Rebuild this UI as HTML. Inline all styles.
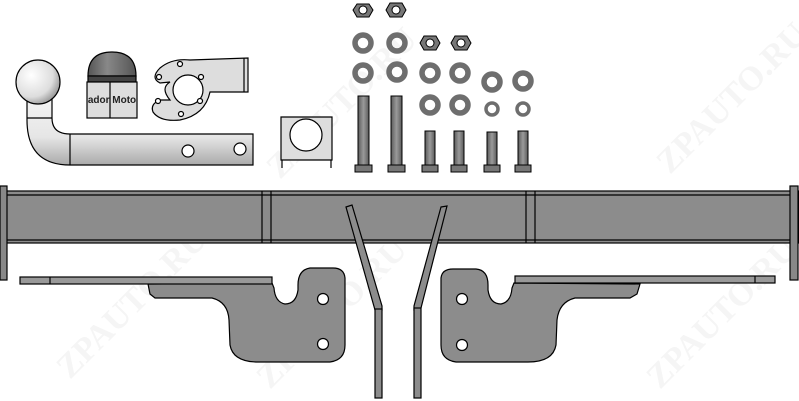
<!DOCTYPE html>
<html><head><meta charset="utf-8"><style>
html,body{margin:0;padding:0;background:#fff;}
svg{display:block;}
.wm{font-family:"Liberation Serif",serif;font-weight:bold;font-size:34px;fill:#f5f5f5;}
</style></head><body>
<svg width="799" height="401" viewBox="0 0 799 401" xmlns="http://www.w3.org/2000/svg">
<defs>
<linearGradient id="bar" x1="0" x2="1"><stop offset="0" stop-color="#5a5a5a"/><stop offset=".5" stop-color="#9a9a9a"/><stop offset="1" stop-color="#5a5a5a"/></linearGradient>
<radialGradient id="ball" cx=".35" cy=".35" r=".7"><stop offset="0" stop-color="#fff"/><stop offset=".7" stop-color="#ddd"/><stop offset="1" stop-color="#999"/></radialGradient>
<linearGradient id="tube" x1="0" y1="0" x2="0" y2="1"><stop offset="0" stop-color="#f4f4f4"/><stop offset=".6" stop-color="#e6e6e6"/><stop offset="1" stop-color="#aaa"/></linearGradient>
<linearGradient id="cap" x1="0" y1="0" x2="1" y2="0"><stop offset="0" stop-color="#555"/><stop offset=".4" stop-color="#888"/><stop offset="1" stop-color="#555"/></linearGradient>
</defs>
<g class="wm">
<text transform="translate(70,380) rotate(-45)">ZPAUTO.RU</text>
<text transform="translate(280,180) rotate(-45)">ZPAUTO.RU</text>
<text transform="translate(270,390) rotate(-45)">ZPAUTO.RU</text>
<text transform="translate(670,175) rotate(-45)">ZPAUTO.RU</text>
<text transform="translate(660,390) rotate(-45)">ZPAUTO.RU</text>
</g>
<g stroke="#000" stroke-width="1.2">
<path d="M27,95 L52,95 L52,118 Q52,134 70,134 L253,134 L253,165 L70,165 Q27,165 27,120 Z" fill="url(#tube)"/>
<line x1="70" y1="134" x2="70" y2="165"/>
<line x1="27" y1="118" x2="52" y2="118"/>
<circle cx="38" cy="82" r="22" fill="url(#ball)"/>
<circle cx="188" cy="151" r="6" fill="#fff"/><circle cx="240" cy="149" r="6" fill="#fff"/>
<path d="M88,76 Q88,52 112,52 Q136,52 136,76 Z" fill="url(#cap)"/>
<rect x="88" y="76" width="48" height="6" fill="#444"/>
<rect x="87" y="82" width="50" height="36" fill="#ddd"/>
<line x1="110" y1="82" x2="110" y2="118"/>
<path d="M160,68 Q172,58 190,60 L248,58 L248,92 L210,92 Q205,115 180,120 Q160,122 153,112 Q150,104 160,100 L170,100 Q160,88 170,82 L160,83 Q150,78 160,68 Z" fill="#ddd"/>
<circle cx="188" cy="90" r="15" fill="#fff"/>
<circle cx="180" cy="64" r="2.5" fill="#fff"/><circle cx="201" cy="77" r="2.5" fill="#fff"/><circle cx="159" cy="77" r="2.5" fill="#fff"/><circle cx="158" cy="101" r="2.5" fill="#fff"/><circle cx="200" cy="101" r="2.5" fill="#fff"/><circle cx="181" cy="114" r="2.5" fill="#fff"/>
<line x1="244" y1="58" x2="244" y2="92"/>
<path d="M281,117 L332,117 L332,160 L281,160 Z" fill="#ddd"/>
<circle cx="306" cy="135" r="16" fill="#fff"/>
<line x1="282" y1="160" x2="282" y2="168"/><line x1="331" y1="160" x2="331" y2="168"/>
</g>
<text x="112" y="103" font-family="Liberation Sans,sans-serif" font-size="10" font-weight="bold" text-anchor="middle" fill="#222">ador Moto</text>
<g stroke="#000" stroke-width="1">
<g fill="#777">
<polygon points="357,4 369,4 373,10 369,17 357,17 353,10"/><polygon points="390,3 402,3 406,10 402,17 390,17 386,10"/>
<polygon points="424,36 436,36 440,43 436,50 424,50 420,43"/><polygon points="455,36 467,36 471,43 467,50 455,50 451,43"/>
</g>
<g fill="none" stroke="#6e6e6e" stroke-width="5.5">
<circle cx="363" cy="43" r="8"/><circle cx="397" cy="43" r="8"/>
<circle cx="363" cy="73" r="8"/><circle cx="397" cy="72" r="8"/><circle cx="430" cy="73" r="8"/><circle cx="460" cy="73" r="8"/>
<circle cx="492" cy="82" r="8"/><circle cx="523" cy="81" r="8"/>
<circle cx="430" cy="105" r="8"/><circle cx="460" cy="105" r="8"/>
<circle cx="492" cy="109" r="6" stroke-width="3.5"/><circle cx="523" cy="109" r="6" stroke-width="3.5"/>
</g>
<g fill="#fff"><circle cx="363" cy="10" r="4"/><circle cx="396" cy="10" r="4"/><circle cx="430" cy="43" r="4"/><circle cx="461" cy="43" r="4"/></g>
<g fill="url(#bar)">
<rect x="358" y="96" width="11" height="69"/><rect x="391" y="96" width="11" height="69"/>
<rect x="425" y="131" width="10" height="34"/><rect x="454" y="131" width="10" height="34"/>
<rect x="487" y="132" width="10" height="33"/><rect x="518" y="131" width="10" height="34"/>
</g>
<g fill="#777">
<rect x="355" y="165" width="17" height="7"/><rect x="388" y="165" width="17" height="7"/>
<rect x="422" y="165" width="16" height="7"/><rect x="451" y="165" width="16" height="7"/>
<rect x="484" y="165" width="16" height="7"/><rect x="515" y="165" width="16" height="7"/>
</g>
</g>
<g stroke="#000" stroke-width="1.2">
<rect x="0" y="191" width="799" height="52" fill="#8c8c8c"/>
<line x1="0" y1="195" x2="799" y2="195"/><line x1="0" y1="240" x2="799" y2="240"/>
<line x1="262" y1="191" x2="262" y2="243"/><line x1="271" y1="191" x2="271" y2="243"/>
<line x1="526" y1="191" x2="526" y2="243"/><line x1="535" y1="191" x2="535" y2="243"/>
<rect x="0" y="186" width="7" height="94" fill="#888"/>
<rect x="790" y="186" width="8" height="94" fill="#888"/>
<g fill="#8c8c8c">
<path d="M148,284 L150,294 L155,298 L212,298 Q228,302 229,320 L230,345 Q233,362 258,362 L330,362 Q345,360 345,345 L345,278 Q344,268 333,268 L310,268 Q298,270 298,285 L298,290 Q296,304 285,304 Q275,302 274,288 L272,283 Z"/>
<rect x="20" y="277" width="252" height="7" fill="#999"/>
<line x1="50" y1="277" x2="50" y2="284"/>
<circle cx="323" cy="299" r="5.5" fill="#fff"/><circle cx="323" cy="344" r="5.5" fill="#fff"/>
</g>
<g fill="#8c8c8c">
<path d="M640,284 L637,294 L630,298 L575,298 Q559,302 557,320 L556,345 Q553,362 528,362 L456,362 Q441,360 441,345 L441,278 Q442,269 453,269 L476,269 Q488,270 488,285 L488,290 Q490,304 501,304 Q511,302 512,288 L514,283 Z"/>
<rect x="515" y="276" width="260" height="7" fill="#999"/>
<line x1="755" y1="276" x2="755" y2="283"/>
<circle cx="462" cy="299" r="5.5" fill="#fff"/><circle cx="462" cy="345" r="5.5" fill="#fff"/>
</g>
<g fill="#8c8c8c">
<polygon points="346,207 352,205 382,306 382,310 375,310"/>
<rect x="375" y="309" width="7" height="89"/>
<polygon points="441,207 447,206 421,308 414,310 414,306"/>
<rect x="414" y="308" width="7" height="90"/>
</g>
</g>
</svg>
</body></html>
